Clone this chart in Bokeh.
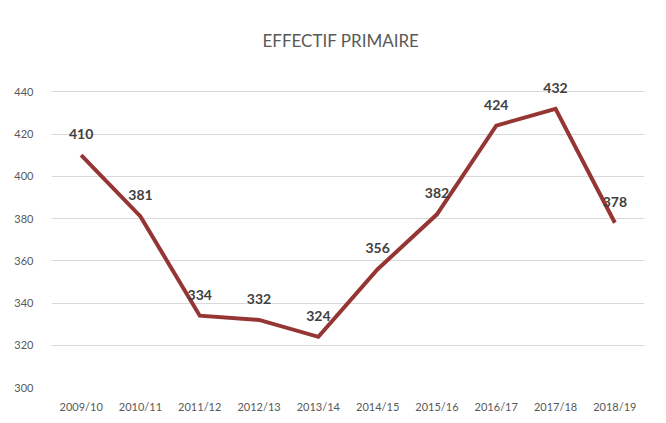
from bokeh.plotting import figure
from bokeh.models import ColumnDataSource, LabelSet, Label, FixedTicker
from bokeh.core.properties import value
from bokeh.embed import file_html
from bokeh.resources import INLINE

years = ["2009/10", "2010/11", "2011/12", "2012/13", "2013/14",
         "2014/15", "2015/16", "2016/17", "2017/18", "2018/19"]
effectif = [410, 381, 334, 332, 324, 356, 382, 424, 432, 378]
y_ticks = [300, 320, 340, 360, 380, 400, 420, 440]
title_text = "EFFECTIF PRIMAIRE"

src = ColumnDataSource(dict(x=years, y=effectif, t=[str(v) for v in effectif]))

p = figure(width=658, height=415, x_range=years, y_range=(300, 470),
           output_backend="svg", toolbar_location=None,
           min_border_left=51, min_border_right=14, min_border_top=28, min_border_bottom=22)
p.outline_line_color = None
p.background_fill_color = "white"
p.border_fill_color = "white"

p.line("x", "y", source=src, line_color="#963634", line_width=4, line_join="miter")

labels = LabelSet(x="x", y="y", text="t", source=src, y_offset=21,
                  text_align="center", text_baseline="middle",
                  text_font=value("Lato"), text_font_style="bold",
                  text_font_size=value("14px"), text_color="#404040")
p.add_layout(labels)

title = Label(x=4.88, y=464.5, text=title_text,
              text_align="center", text_baseline="middle",
              text_font="Lato", text_font_size="17px", text_color="#595959")
p.add_layout(title)

p.xgrid.grid_line_color = None
p.ygrid.grid_line_color = "#d9d9d9"
p.ygrid.grid_line_width = 1
p.yaxis.ticker = FixedTicker(ticks=y_ticks)

for ax in (p.xaxis, p.yaxis):
    ax.axis_line_color = None
    ax.major_tick_line_color = None
    ax.minor_tick_line_color = None
    ax.major_label_text_font = "Lato"
    ax.major_label_text_font_size = "11px"
    ax.major_label_text_color = "#595959"
p.yaxis.major_label_standoff = 12
p.xaxis.major_label_standoff = 6

open("out.html", "w").write(file_html(p, INLINE))
